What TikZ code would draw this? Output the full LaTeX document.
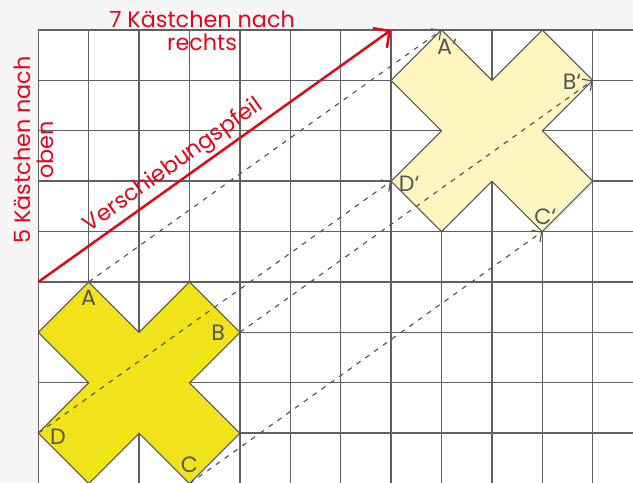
\documentclass[tikz,border=0pt]{standalone}
\usepackage{fontspec}
\setmainfont{Poppins}
\usetikzlibrary{arrows.meta, calc}

\definecolor{rot}{HTML}{E3051B}
\definecolor{gitter}{HTML}{606060}
\definecolor{gelb}{HTML}{F0E31A}
\definecolor{hellgelb}{HTML}{FEF5C0}
\definecolor{grau}{HTML}{555555}
\definecolor{rand}{HTML}{F5F5F5}

\tikzset{
  gitterlinie/.style={gitter, line width=0.8pt},
  kreuz/.style={draw=grau, line width=0.6pt, line join=miter},
  hilfspfeil/.style={grau, dash pattern=on 2.8pt off 3.3pt, line width=0.65pt,
    -{Straight Barb[length=4pt, width=8pt]}},
  verschiebung/.style={rot, line width=1.4pt, -{Straight Barb[length=6.8pt, width=13.6pt]}},
  punkt/.style={text=grau, font=\fontsize{12.5}{14}\selectfont, inner sep=0pt},
  rottext/.style={text=rot, font=\fontsize{12.6}{13}\selectfont, align=center, inner sep=0pt}
}

\begin{document}
\begin{tikzpicture}
  \fill[rand] (-0.76,0.03) rectangle (11.80,9.595);
  \useasboundingbox (-0.76,0.03) rectangle (11.80,9.595);
  \clip (-0.76,0.03) rectangle (11.80,9.595);
  \fill[white] (0,-0.5) rectangle (11.9,9);
  \draw[gitterlinie] (0,-0.5) grid (11.9,9);

  % Eckpunkte
  \coordinate (A) at (1,4);
  \coordinate (B) at (4,3);
  \coordinate (C) at (3,0);
  \coordinate (D) at (0,1);
  \coordinate (A1) at (8,9);
  \coordinate (B1) at (11,8);
  \coordinate (C1) at (10,5);
  \coordinate (D1) at (7,6);
  \coordinate (P) at (0,4);
  \coordinate (P1) at (7,9);

  % Kreuz und Bild
  \filldraw[kreuz, fill=gelb] (A) -- (2,3) -- (3,4) -- (B) -- (3,2) -- (4,1) -- (C)
    -- (2,1) -- (1,0) -- (D) -- (1,2) -- (0,3) -- cycle;
  \filldraw[kreuz, fill=hellgelb] (A1) -- (9,8) -- (10,9) -- (B1) -- (10,7) -- (11,6) -- (C1)
    -- (9,6) -- (8,5) -- (D1) -- (8,7) -- (7,8) -- cycle;

  % Verschiebung der Punkte
  \draw[hilfspfeil] (A) -- (A1);
  \draw[hilfspfeil] (B) -- (B1);
  \draw[hilfspfeil] (C) -- (C1);
  \draw[hilfspfeil] (D) -- (D1);

  \draw[verschiebung] (P) -- node[rottext, sloped, above=1.8pt, pos=0.41] (vp) {Verschiebungspfeil} (P1);

  % Beschriftung
  \node[punkt] (lA) at ($(A)+(0,-0.32)$) {A};
  \node[punkt] (lB) at ($(B)+(-0.43,0)$) {B};
  \node[punkt] (lC) at ($(C)+(0,0.37)$) {C};
  \node[punkt] (lD) at ($(D)+(0.39,-0.08)$) {D};
  \node[punkt] (lA1) at ($(A1)+(0.11,-0.34)$) {A‘};
  \node[punkt] (lB1) at ($(B1)+(-0.41,-0.03)$) {B‘};
  \node[punkt] (lC1) at ($(C1)+(0.06,0.29)$) {C‘};
  \node[punkt] (lD1) at ($(D1)+(0.36,-0.06)$) {D‘};

  \node[rottext] (rechts) at (3.25,8.98) {7 Kästchen nach\\rechts};
  \node[rottext, rotate=90] (oben) at (-0.08,6.62) {5 Kästchen nach\\oben};
\end{tikzpicture}
\end{document}
